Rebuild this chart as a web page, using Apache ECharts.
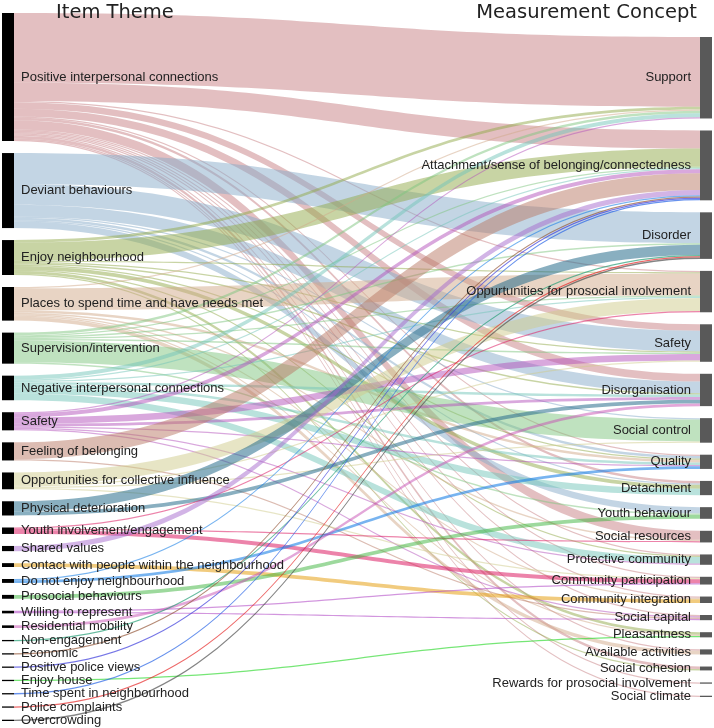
<!DOCTYPE html>
<html><head><meta charset="utf-8">
<script src="https://cdn.jsdelivr.net/npm/echarts@6/dist/echarts.min.js"></script>
<style>html,body{margin:0;padding:0;background:#fff}#c{width:714px;height:728px}</style>
</head><body><div id="c"></div>
<script>
const itemThemes = [
  'Positive interpersonal connections','Deviant behaviours','Enjoy neighbourhood',
  'Places to spend time and have needs met','Supervision/intervention',
  'Negative interpersonal connections','Safety','Feeling of belonging',
  'Opportunities for collective influence','Physical deterioration',
  'Youth involvement/engagement','Shared values','Contact with people within the neighbourhood',
  'Do not enjoy neighbourhood','Prosocial behaviours','Willing to represent',
  'Residential mobility','Non-engagement','Economic','Positive police views',
  'Enjoy house','Time spent in neighbourhood','Police complaints','Overcrowding'
];
const concepts = [
  'Support','Attachment/sense of belonging/connectedness','Disorder',
  'Oppurtunities for prosocial involvement','Safety','Disorganisation','Social control',
  'Quality','Detachment','Youth behaviour','Social resources','Protective community',
  'Community participation','Community integration','Social capital','Pleasantness',
  'Available activities','Social cohesion','Rewards for prosocial involvement','Social climate'
];
// [item theme, measurement concept, number of items]
const flows = [
  ['Positive interpersonal connections','Support',54],
  ['Positive interpersonal connections','Attachment/sense of belonging/connectedness',14],
  ['Positive interpersonal connections','Oppurtunities for prosocial involvement',1],
  ['Positive interpersonal connections','Safety',5],
  ['Positive interpersonal connections','Disorganisation',6],
  ['Positive interpersonal connections','Quality',1],
  ['Positive interpersonal connections','Detachment',2],
  ['Positive interpersonal connections','Social resources',7],
  ['Positive interpersonal connections','Protective community',1],
  ['Positive interpersonal connections','Community participation',1],
  ['Positive interpersonal connections','Community integration',1],
  ['Positive interpersonal connections','Social capital',1],
  ['Positive interpersonal connections','Available activities',1],
  ['Positive interpersonal connections','Social cohesion',2],
  ['Positive interpersonal connections','Rewards for prosocial involvement',1],
  ['Positive interpersonal connections','Social climate',1],
  ['Deviant behaviours','Disorder',24],
  ['Deviant behaviours','Safety',16],
  ['Deviant behaviours','Disorganisation',9],
  ['Deviant behaviours','Social control',1],
  ['Deviant behaviours','Quality',2],
  ['Deviant behaviours','Detachment',1],
  ['Deviant behaviours','Youth behaviour',5],
  ['Enjoy neighbourhood','Support',2],
  ['Enjoy neighbourhood','Attachment/sense of belonging/connectedness',14],
  ['Enjoy neighbourhood','Oppurtunities for prosocial involvement',1],
  ['Enjoy neighbourhood','Safety',1],
  ['Enjoy neighbourhood','Disorganisation',1],
  ['Enjoy neighbourhood','Quality',1],
  ['Enjoy neighbourhood','Detachment',3],
  ['Enjoy neighbourhood','Protective community',1],
  ['Enjoy neighbourhood','Pleasantness',2],
  ['Enjoy neighbourhood','Social cohesion',1],
  ['Places to spend time and have needs met','Support',1],
  ['Places to spend time and have needs met','Oppurtunities for prosocial involvement',17],
  ['Places to spend time and have needs met','Quality',2],
  ['Places to spend time and have needs met','Social resources',1],
  ['Places to spend time and have needs met','Community integration',1],
  ['Places to spend time and have needs met','Pleasantness',1],
  ['Places to spend time and have needs met','Available activities',3],
  ['Supervision/intervention','Support',2],
  ['Supervision/intervention','Attachment/sense of belonging/connectedness',1],
  ['Supervision/intervention','Disorder',1],
  ['Supervision/intervention','Oppurtunities for prosocial involvement',1],
  ['Supervision/intervention','Safety',1],
  ['Supervision/intervention','Social control',17],
  ['Supervision/intervention','Youth behaviour',1],
  ['Negative interpersonal connections','Support',3],
  ['Negative interpersonal connections','Attachment/sense of belonging/connectedness',1],
  ['Negative interpersonal connections','Oppurtunities for prosocial involvement',1],
  ['Negative interpersonal connections','Disorganisation',2],
  ['Negative interpersonal connections','Quality',2],
  ['Negative interpersonal connections','Detachment',5],
  ['Negative interpersonal connections','Protective community',5],
  ['Safety','Support',1],
  ['Safety','Attachment/sense of belonging/connectedness',3],
  ['Safety','Safety',5],
  ['Safety','Disorganisation',2],
  ['Safety','Quality',1],
  ['Safety','Protective community',1],
  ['Safety','Social capital',1],
  ['Feeling of belonging','Attachment/sense of belonging/connectedness',13],
  ['Feeling of belonging','Social capital',1],
  ['Opportunities for collective influence','Oppurtunities for prosocial involvement',10],
  ['Opportunities for collective influence','Safety',1],
  ['Opportunities for collective influence','Social control',1],
  ['Opportunities for collective influence','Community participation',1],
  ['Physical deterioration','Disorder',8],
  ['Physical deterioration','Disorganisation',3],
  ['Youth involvement/engagement','Oppurtunities for prosocial involvement',1],
  ['Youth involvement/engagement','Social resources',1],
  ['Youth involvement/engagement','Community participation',3],
  ['Shared values','Attachment/sense of belonging/connectedness',4],
  ['Contact with people within the neighbourhood','Community integration',3],
  ['Do not enjoy neighbourhood','Attachment/sense of belonging/connectedness',1],
  ['Do not enjoy neighbourhood','Quality',2],
  ['Prosocial behaviours','Youth behaviour',3],
  ['Willing to represent','Community participation',1],
  ['Willing to represent','Social capital',1],
  ['Residential mobility','Disorganisation',2],
  ['Non-engagement','Disorder',1],
  ['Economic','Attachment/sense of belonging/connectedness',1],
  ['Positive police views','Attachment/sense of belonging/connectedness',1],
  ['Enjoy house','Pleasantness',1],
  ['Time spent in neighbourhood','Attachment/sense of belonging/connectedness',1],
  ['Police complaints','Disorder',1],
  ['Overcrowding','Disorder',1]
];
const themeColors = [
  'rgba(199,127,131,0.5)','rgba(135,171,201,0.5)','rgba(145,169,73,0.5)',
  'rgba(209,169,137,0.5)','rgba(127,197,127,0.5)','rgba(115,197,185,0.5)',
  'rgba(179,81,187,0.5)','rgba(185,121,101,0.5)','rgba(207,203,139,0.5)',
  'rgba(40,110,140,0.55)','rgba(220,30,100,0.55)','rgba(165,105,205,0.5)',
  'rgba(230,160,20,0.55)','rgba(30,130,230,0.6)','rgba(60,180,60,0.5)',
  'rgba(180,80,200,0.6)','rgba(200,80,180,0.5)','rgba(40,160,120,0.7)',
  'rgba(150,90,60,0.7)','rgba(60,60,220,0.7)','rgba(60,220,60,0.7)',
  'rgba(40,100,230,0.7)','rgba(230,40,40,0.7)','rgba(80,80,80,0.7)'
];

const nodes = itemThemes.map(n => ({
  name: 'L|' + n, depth: 0, itemStyle: {color: '#000'},
  label: {position: 'right', distance: 7}
})).concat(concepts.map(n => ({
  name: 'R|' + n, depth: 1, itemStyle: {color: '#595959'},
  label: {position: 'left', distance: 9}
})));
const links = flows.map(([s, t, v]) => ({
  source: 'L|' + s, target: 'R|' + t, value: v,
  lineStyle: {color: themeColors[itemThemes.indexOf(s)]}
}));

const chart = echarts.init(document.getElementById('c'), null, {renderer: 'canvas'});
const option = {
  animation: false,
  title: [
    {text: 'Item Theme', left: 51, top: -2,
     textStyle: {fontFamily: 'DejaVu Sans', fontSize: 19.5, fontWeight: 'normal', color: '#222'}},
    {text: 'Measurement Concept', right: 12, top: -2,
     textStyle: {fontFamily: 'DejaVu Sans', fontSize: 19.5, fontWeight: 'normal', color: '#222'}}
  ],
  series: [{
    type: 'sankey',
    left: 2, right: 2, top: 13, bottom: 7,
    nodeWidth: 12, nodeGap: 12,
    layoutIterations: 0,
    draggable: false,
    emphasis: {disabled: true},
    data: nodes,
    links: links,
    lineStyle: {curveness: 0.5, opacity: 1},
    itemStyle: {borderWidth: 0},
    label: {
      fontFamily: 'Liberation Sans', fontSize: 13, color: '#222',
      formatter: p => p.name.slice(2)
    }
  }]
};
chart.setOption(option);

// Centre the shorter right-hand column vertically, using the library's own layout.
try {
  const sm = chart.getModel().getSeriesByIndex(0);
  const graph = sm.getGraph();
  const data = sm.getData();
  const h = sm.layoutInfo.height;
  let leftBottom = 0, rightTop = Infinity, rightBottom = 0;
  const rightLayouts = {};
  graph.nodes.forEach(nd => {
    const l = nd.getLayout();
    const nm = data.getName(nd.dataIndex);
    if (nm.startsWith('L|')) {
      leftBottom = Math.max(leftBottom, l.y + l.dy);
    } else {
      rightTop = Math.min(rightTop, l.y);
      rightBottom = Math.max(rightBottom, l.y + l.dy);
      rightLayouts[nm] = l.y;
    }
  });
  const shift = (leftBottom - rightBottom + rightTop) / 2;
  option.series[0].data = nodes.map(n => rightLayouts[n.name] != null
    ? Object.assign({}, n, {localY: (rightLayouts[n.name] + shift) / h}) : n);
  chart.setOption(option, true);
} catch (e) { console.log(e); }
</script></body></html>
